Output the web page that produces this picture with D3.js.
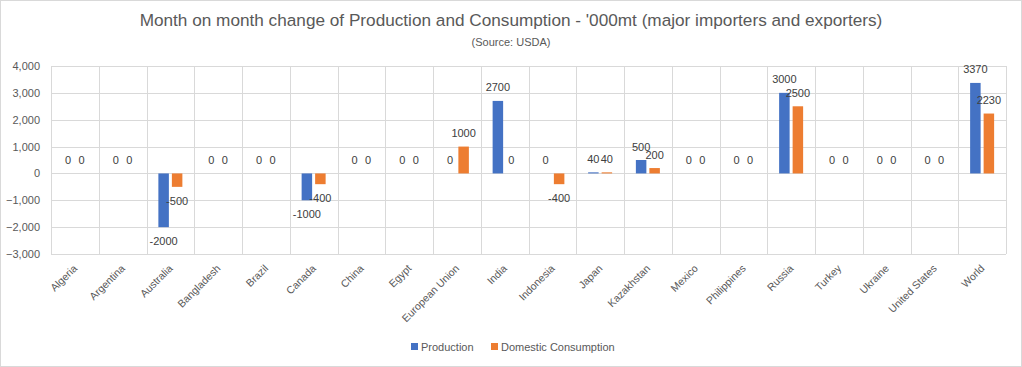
<!DOCTYPE html>
<html><head><meta charset="utf-8">
<script src="https://cdn.jsdelivr.net/npm/d3@7"></script>
<style>body{margin:0;background:#fff;} svg{display:block;font-family:"Liberation Sans",Arial,sans-serif;}</style>
</head><body>
<svg id="c" width="1022" height="367"></svg>
<script>
const categories = ["Algeria","Argentina","Australia","Bangladesh","Brazil","Canada","China","Egypt","European Union","India","Indonesia","Japan","Kazakhstan","Mexico","Philippines","Russia","Turkey","Ukraine","United States","World"];
const production = [0,0,-2000,0,0,-1000,0,0,0,2700,0,40,500,0,0,3000,0,0,0,3370];
const consumption = [0,0,-500,0,0,-400,0,0,1000,0,-400,40,200,0,0,2500,0,0,0,2230];
const yTicks = [-3000,-2000,-1000,0,1000,2000,3000,4000];
const seriesNames = ["Production","Domestic Consumption"];
const colors = ["#4472C4","#ED7D31"];

const svg = d3.select("#c");
svg.append("rect").attr("x",0.5).attr("y",0.5).attr("width",1021).attr("height",366).attr("fill","#fff").attr("stroke","#d9d9d9");

const x = d3.scaleBand().domain(categories).range([51,1006]).paddingInner(0).paddingOuter(0);
const y = d3.scaleLinear().domain([-3000,4000]).range([254,66]);

// gridlines
svg.append("g").selectAll("line").data(yTicks).join("line")
  .attr("x1",51).attr("x2",1006).attr("y1",d=>Math.round(y(d))+0.5).attr("y2",d=>Math.round(y(d))+0.5)
  .attr("stroke","#d9d9d9").attr("stroke-width",1);
const vb = categories.map(c=>x(c)).concat([x.range()[1]]);
svg.append("g").selectAll("line").data(vb).join("line")
  .attr("x1",d=>Math.round(d)+0.5).attr("x2",d=>Math.round(d)+0.5).attr("y1",y(4000)).attr("y2",y(-3000))
  .attr("stroke","#d9d9d9").attr("stroke-width",1);

// y axis labels
const yAxis = d3.axisLeft(y).tickValues(yTicks).tickSize(0).tickPadding(0).tickFormat(d3.format(",d"));
const ga = svg.append("g").attr("transform","translate(40,0)").call(yAxis);
ga.select(".domain").remove();
ga.selectAll("text").attr("font-size","11px").attr("fill","#595959").attr("font-family","Liberation Sans, Arial, sans-serif");

const bw = 10.5, gap = 3;
const series = [production, consumption];
series.forEach((vals,si)=>{
  const off = si===0 ? -gap/2-bw : gap/2;
  const g = svg.append("g");
  g.selectAll("rect").data(vals).join("rect")
    .attr("x",(d,i)=>x(categories[i])+x.bandwidth()/2+off)
    .attr("width",bw)
    .attr("y",d=>y(Math.max(0,d)))
    .attr("height",d=>Math.abs(y(d)-y(0)))
    .attr("fill",colors[si]);
  g.selectAll("text").data(vals).join("text")
    .attr("x",(d,i)=>x(categories[i])+x.bandwidth()/2+off+bw/2)
    .attr("y",d=> d<0 ? y(d)+18 : y(d)-9.5)
    .attr("text-anchor","middle").attr("font-size","11px").attr("fill","#404040")
    .text(d=>d);
});

// x labels
svg.append("g").selectAll("text").data(categories).join("text")
  .attr("transform",c=>`translate(${x(c)+x.bandwidth()/2+3},${269}) rotate(-45)`)
  .attr("text-anchor","end").attr("font-size","10.5px").attr("fill","#595959")
  .text(c=>c);

// title
svg.append("text").attr("x",511).attr("y",26).attr("text-anchor","middle").attr("font-size","17.2px").attr("fill","#595959")
  .text("Month on month change of Production and Consumption - '000mt (major importers and exporters)");
svg.append("text").attr("x",511).attr("y",46).attr("text-anchor","middle").attr("font-size","11px").attr("fill","#595959")
  .text("(Source: USDA)");

// legend
const lg = svg.append("g");
const lx = [411, 491];
seriesNames.forEach((n,i)=>{
  lg.append("rect").attr("x",lx[i]).attr("y",343).attr("width",7).attr("height",7).attr("fill",colors[i]);
  lg.append("text").attr("x",lx[i]+10).attr("y",350.5).attr("font-size","11px").attr("fill","#595959").text(n);
});
</script>
</body></html>
